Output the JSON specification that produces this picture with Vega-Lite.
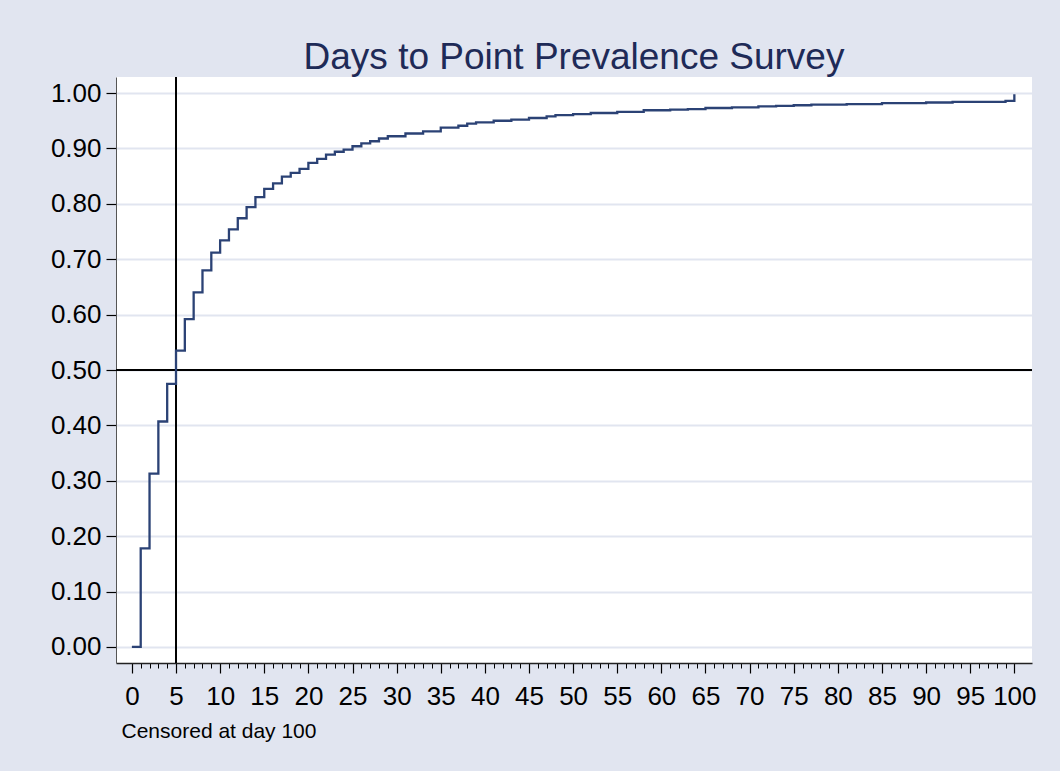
{
  "$schema": "https://vega.github.io/schema/vega-lite/v6.json",
  "width": 916,
  "height": 586,
  "autosize": "none",
  "padding": {"left": 116, "top": 77, "right": 28, "bottom": 108},
  "background": "#E1E5F0",
  "config": {
    "view": {"fill": "white", "stroke": null},
    "font": "Liberation Sans"
  },
  "title": {
    "text": "Days to Point Prevalence Survey",
    "fontSize": 37,
    "font": "Liberation Sans",
    "fontWeight": "normal",
    "color": "#1E2A57",
    "anchor": "middle",
    "baseline": "alphabetic",
    "offset": -30
  },
  "datasets": {
    "km": [
      {"day": 0, "f": 0},
      {"day": 1, "f": 0.178},
      {"day": 2, "f": 0.313},
      {"day": 3, "f": 0.407},
      {"day": 4, "f": 0.475},
      {"day": 5, "f": 0.535},
      {"day": 6, "f": 0.592},
      {"day": 7, "f": 0.640},
      {"day": 8, "f": 0.680},
      {"day": 9, "f": 0.712},
      {"day": 10, "f": 0.734},
      {"day": 11, "f": 0.754},
      {"day": 12, "f": 0.774},
      {"day": 13, "f": 0.794},
      {"day": 14, "f": 0.812},
      {"day": 15, "f": 0.827},
      {"day": 16, "f": 0.837},
      {"day": 17, "f": 0.849},
      {"day": 18, "f": 0.856},
      {"day": 19, "f": 0.863},
      {"day": 20, "f": 0.874},
      {"day": 21, "f": 0.881},
      {"day": 22, "f": 0.889},
      {"day": 23, "f": 0.894},
      {"day": 24, "f": 0.898},
      {"day": 25, "f": 0.904},
      {"day": 26, "f": 0.909},
      {"day": 27, "f": 0.913},
      {"day": 28, "f": 0.918},
      {"day": 29, "f": 0.922},
      {"day": 31, "f": 0.927},
      {"day": 33, "f": 0.931},
      {"day": 35, "f": 0.9375},
      {"day": 37, "f": 0.941},
      {"day": 38, "f": 0.945},
      {"day": 39, "f": 0.947},
      {"day": 41, "f": 0.950},
      {"day": 43, "f": 0.952},
      {"day": 45, "f": 0.955},
      {"day": 47, "f": 0.958},
      {"day": 48, "f": 0.960},
      {"day": 50, "f": 0.962},
      {"day": 52, "f": 0.964},
      {"day": 55, "f": 0.966},
      {"day": 58, "f": 0.969},
      {"day": 61, "f": 0.970},
      {"day": 63, "f": 0.971},
      {"day": 65, "f": 0.973},
      {"day": 68, "f": 0.974},
      {"day": 71, "f": 0.976},
      {"day": 73, "f": 0.977},
      {"day": 75, "f": 0.978},
      {"day": 77, "f": 0.979},
      {"day": 81, "f": 0.980},
      {"day": 85, "f": 0.982},
      {"day": 90, "f": 0.983},
      {"day": 93, "f": 0.984},
      {"day": 99, "f": 0.986},
      {"day": 100, "f": 0.998}
    ]
  },
  "resolve": {"axis": {"x": "independent", "y": "independent"}},
  "layer": [
    {
      "data": {"values": [{"xref": 5}]},
      "mark": {"type": "rule", "color": "black", "strokeWidth": 2},
      "encoding": {
        "x": {
          "field": "xref",
          "type": "quantitative",
          "scale": {"domain": [-1.8, 102], "nice": false, "zero": false},
          "axis": {
            "orient": "bottom",
            "values": [0,1,2,3,4,5,6,7,8,9,10,11,12,13,14,15,16,17,18,19,20,21,22,23,24,25,26,27,28,29,30,31,32,33,34,35,36,37,38,39,40,41,42,43,44,45,46,47,48,49,50,51,52,53,54,55,56,57,58,59,60,61,62,63,64,65,66,67,68,69,70,71,72,73,74,75,76,77,78,79,80,81,82,83,84,85,86,87,88,89,90,91,92,93,94,95,96,97,98,99,100],
            "labels": false,
            "domain": false,
            "grid": false,
            "ticks": true,
            "tickSize": 5,
            "tickColor": "black",
            "tickWidth": 1,
            "title": null
          }
        }
      }
    },
    {
      "data": {"values": [{"yref": 0.5}]},
      "mark": {"type": "rule", "color": "black", "strokeWidth": 2},
      "encoding": {
        "y": {
          "field": "yref",
          "type": "quantitative",
          "scale": {"domain": [-0.029, 1.029], "nice": false, "zero": false},
          "axis": {
            "orient": "left",
            "values": [0, 0.1, 0.2, 0.3, 0.4, 0.5, 0.6, 0.7, 0.8, 0.9, 1.0],
            "format": ".2f",
            "labelFontSize": 26,
            "labelFont": "Liberation Sans",
            "labelColor": "black",
            "labelPadding": 5,
            "tickSize": 10,
            "tickColor": "black",
            "tickWidth": 1.2,
            "domainColor": "#555555",
            "domainWidth": 1,
            "grid": true,
            "gridColor": "#E1E5F0",
            "gridWidth": 2,
            "title": null
          }
        }
      }
    },
    {
      "data": {"name": "km"},
      "mark": {"type": "line", "interpolate": "step-after", "color": "#2B4275", "strokeWidth": 2.3},
      "encoding": {
        "x": {
          "field": "day",
          "type": "quantitative",
          "scale": {"domain": [-1.8, 102], "nice": false, "zero": false},
          "axis": {
            "orient": "bottom",
            "values": [0,5,10,15,20,25,30,35,40,45,50,55,60,65,70,75,80,85,90,95,100],
            "labelFontSize": 26,
            "labelFont": "Liberation Sans",
            "labelColor": "black",
            "labelPadding": 10,
            "labelFlush": false,
            "labelOverlap": false,
            "tickSize": 10,
            "tickColor": "black",
            "tickWidth": 1.2,
            "domainColor": "#222222",
            "domainWidth": 1.5,
            "grid": false,
            "title": "Censored at day 100",
            "titleFontSize": 21,
            "titleFont": "Liberation Sans",
            "titleFontWeight": "normal",
            "titleColor": "black",
            "titleAnchor": "start",
            "titleAlign": "left",
            "titleBaseline": "alphabetic",
            "titleX": 5,
            "titleY": 74
          }
        },
        "y": {
          "field": "f",
          "type": "quantitative",
          "scale": {"domain": [-0.029, 1.029], "nice": false, "zero": false},
          "axis": null
        }
      }
    }
  ]
}
